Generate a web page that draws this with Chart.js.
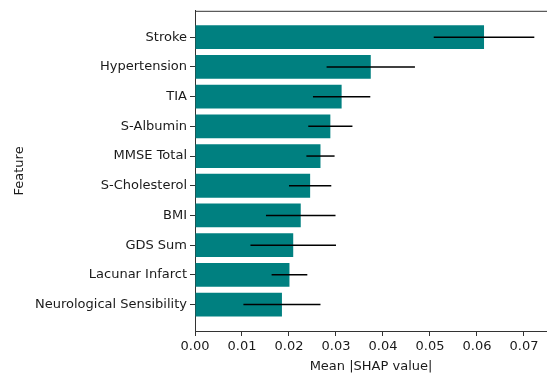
<!DOCTYPE html>
<html lang="en">
<head>
    <meta charset="UTF-8">
    <title>Mean |SHAP value| by Feature</title>
    <script src="https://cdn.jsdelivr.net/npm/chart.js"></script>
    <style>
        html, body { margin: 0; padding: 0; background: #fff; }
        .chart-container { width: 547px; height: 376px; }
    </style>
</head>
<body>
<div class="chart-container">
    <canvas id="shapChart"></canvas>
</div>
<script>
    // Values
    const features = ["Stroke", "Hypertension", "TIA", "S-Albumin", "MMSE Total",
        "S-Cholesterol", "BMI", "GDS Sum", "Lacunar Infarct", "Neurological Sensibility"];
    const meanShap = [0.0615, 0.0374, 0.0312, 0.0288, 0.0267, 0.0245, 0.0225, 0.0209, 0.0201, 0.0185];
    const shapStd = [0.0107, 0.0094, 0.0061, 0.0047, 0.0030, 0.0045, 0.0074, 0.0091, 0.0038, 0.0082];
    const xTicks = [0, 0.01, 0.02, 0.03, 0.04, 0.05, 0.06, 0.07];

    const textColor = '#1a1a1a';
    const fontFamily = "'DejaVu Sans', sans-serif";

    // black horizontal error bars + top spine
    const errorBars = {
        id: 'errorBars',
        afterDatasetsDraw(chart) {
            const ctx = chart.ctx;
            const xs = chart.scales.x;
            const ys = chart.scales.y;
            ctx.save();
            ctx.strokeStyle = '#000';
            ctx.lineWidth = 1.5;
            meanShap.forEach((v, i) => {
                const y = ys.getPixelForValue(i);
                ctx.beginPath();
                ctx.moveTo(xs.getPixelForValue(v - shapStd[i]), y);
                ctx.lineTo(xs.getPixelForValue(v + shapStd[i]), y);
                ctx.stroke();
            });
            const area = chart.chartArea;
            ctx.strokeStyle = '#333';
            ctx.lineWidth = 1;
            ctx.beginPath();
            ctx.moveTo(area.left, area.top + 0.5);
            ctx.lineTo(area.right, area.top + 0.5);
            ctx.stroke();
            ctx.restore();
        }
    };

    new Chart(document.getElementById('shapChart'), {
        type: 'bar',
        data: {
            datasets: [{
                data: meanShap.map((v, i) => ({ x: v, y: i })),
                backgroundColor: '#008080',
                borderWidth: 0,
                barPercentage: 0.8,
                categoryPercentage: 1.0
            }]
        },
        options: {
            indexAxis: 'y',
            responsive: true,
            maintainAspectRatio: false,
            animation: false,
            layout: { padding: { top: 10, right: 0, left: 12, bottom: 2 } },
            plugins: {
                legend: { display: false },
                tooltip: { enabled: false }
            },
            scales: {
                x: {
                    type: 'linear',
                    min: 0,
                    max: 0.0749,
                    afterBuildTicks: axis => { axis.ticks = xTicks.map(v => ({ value: v })); },
                    afterFit: axis => { axis.height = 43; },
                    grid: { display: true, drawOnChartArea: false, tickLength: 5, color: '#333' },
                    border: { display: true, color: '#333' },
                    ticks: {
                        color: textColor,
                        font: { family: fontFamily, size: 13 },
                        padding: 3,
                        maxRotation: 0,
                        callback: v => v.toFixed(2)
                    },
                    title: {
                        display: true,
                        text: 'Mean |SHAP value|',
                        color: textColor,
                        font: { family: fontFamily, size: 13 },
                        padding: { top: 1, bottom: 0 }
                    }
                },
                y: {
                    type: 'linear',
                    reverse: true,
                    offset: false,
                    min: -0.89,
                    max: 9.89,
                    afterBuildTicks: axis => { axis.ticks = features.map((_, i) => ({ value: i })); },
                    afterFit: axis => { axis.width = 183; },
                    grid: { display: true, drawOnChartArea: false, offset: false, tickLength: 5, color: '#333' },
                    border: { display: true, color: '#333' },
                    ticks: {
                        color: textColor,
                        font: { family: fontFamily, size: 13 },
                        padding: 3,
                        autoSkip: false,
                        callback: v => features[v]
                    },
                    title: {
                        display: true,
                        text: 'Feature',
                        color: textColor,
                        font: { family: fontFamily, size: 13 },
                        padding: 0
                    }
                }
            }
        },
        plugins: [errorBars]
    });
</script>
</body>
</html>
